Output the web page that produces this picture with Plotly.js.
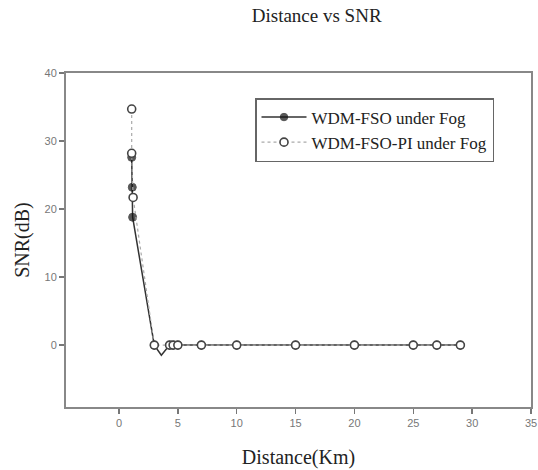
<!DOCTYPE html>
<html>
<head>
<meta charset="utf-8">
<script src="https://cdn.plot.ly/plotly-3.0.1.min.js"></script>
<style>html,body{margin:0;padding:0;background:#fff;}#chart{width:538px;height:470px;}</style>
</head>
<body>
<div id="chart"></div>
<script>
// Data
const fsoName = 'WDM-FSO under Fog';
const fsoDistance = [1.08, 1.13, 1.16, 3.0, 3.6, 4.3, 4.6, 5.0, 7, 10, 15, 20, 25, 27, 29];
const fsoSNR      = [27.6, 23.2, 18.8, 0, -1.5, 0, 0, 0, 0, 0, 0, 0, 0, 0, 0];

const piName = 'WDM-FSO-PI under Fog';
const piDistance = [1.08, 1.08, 1.2, 3.0, 4.3, 4.6, 5.0, 7, 10, 15, 20, 25, 27, 29];
const piSNR      = [34.7, 28.2, 21.7, 0, 0, 0, 0, 0, 0, 0, 0, 0, 0, 0];

const xTicks = [0, 5, 10, 15, 20, 25, 30, 35];
const yTicks = [0, 10, 20, 30, 40];

const serif = 'Liberation Serif, Times New Roman, serif';
const sans = 'Liberation Sans, Arial, sans-serif';

// hide the marker at the unmarked dip point
const fsoMarkerSize = fsoSNR.map(v => v < 0 ? 0 : 8);

const traces = [
  {
    x: fsoDistance, y: fsoSNR, name: fsoName, type: 'scatter', mode: 'lines+markers',
    line: {color: '#333', width: 1.5},
    marker: {symbol: 'circle', size: fsoMarkerSize, color: '#111', line: {color: '#111', width: 1}}
  },
  {
    x: piDistance, y: piSNR, name: piName, type: 'scatter', mode: 'lines+markers',
    line: {color: '#aaa', width: 1.2, dash: 'dot'},
    marker: {symbol: 'circle', size: 8, color: '#fff', line: {color: '#444', width: 1.6}}
  }
];

const layout = {
  width: 538, height: 470,
  paper_bgcolor: '#fff', plot_bgcolor: '#fff',
  margin: {l: 66, r: 7, t: 73, b: 63},
  showlegend: true,
  title: {
    text: 'Distance vs SNR',
    font: {family: serif, size: 19, color: '#222'},
    x: 290 / 538, xanchor: 'center', xref: 'paper',
    y: 1 - 15 / 470, yanchor: 'middle', yref: 'container'
  },
  xaxis: {
    range: [-4.5, 35], tickvals: xTicks, ticktext: xTicks.map(String),
    showgrid: false, zeroline: false,
    showline: true, linecolor: '#888', linewidth: 2, mirror: true,
    ticks: 'outside', ticklen: 5, tickwidth: 1.5, tickcolor: '#777',
    tickfont: {family: sans, size: 11, color: '#777'},
    title: {text: 'Distance(Km)', font: {family: serif, size: 20, color: '#222'}, standoff: 22}
  },
  yaxis: {
    range: [-9.1, 40], tickvals: yTicks, ticktext: yTicks.map(String),
    showgrid: false, zeroline: false,
    showline: true, linecolor: '#888', linewidth: 2, mirror: true,
    ticks: 'outside', ticklen: 5, tickwidth: 1.5, tickcolor: '#777',
    tickfont: {family: sans, size: 11, color: '#777'},
    title: {text: 'SNR(dB)', font: {family: serif, size: 20, color: '#222'}, standoff: 10}
  },
  legend: {
    x: (255 - 66) / 465, y: (407 - 98) / 334, xanchor: 'left', yanchor: 'top',
    bgcolor: '#fff', bordercolor: '#666', borderwidth: 1.5,
    font: {family: serif, size: 17, color: '#222'},
    itemwidth: 45, tracegroupgap: 0, entrywidth: 210
  }
};

Plotly.newPlot('chart', traces, layout, {displayModeBar: false, staticPlot: true});
</script>
</body>
</html>
